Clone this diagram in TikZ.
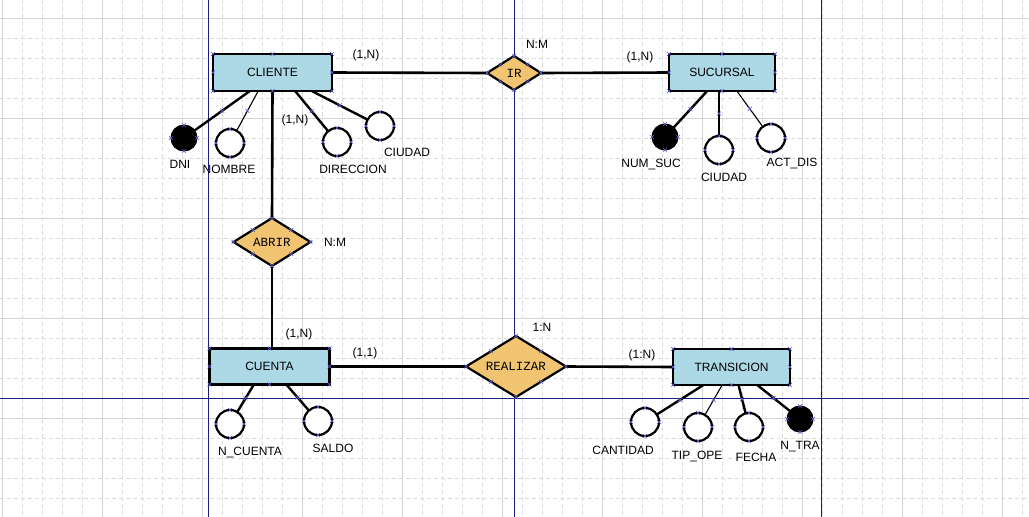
\documentclass[tikz,border=0pt]{standalone}
\usepackage{fontspec}
\setmainfont{Liberation Sans}
\newfontfamily\codefont{Liberation Mono}
\usetikzlibrary{shapes.geometric,calc,decorations.markings}

\definecolor{gridsolid}{RGB}{212,212,212}
\definecolor{griddash}{RGB}{220,220,220}
\definecolor{guide}{RGB}{28,28,128}
\definecolor{entityfill}{RGB}{173,216,230}
\definecolor{relfill}{RGB}{240,196,112}
\definecolor{handlecol}{RGB}{96,96,210}

% small selection crosses at the given anchors of a node
\newcommand\handlemark[2]{%
  \foreach \a in {#2}{\draw[handle] (#1.\a) +(-2,-2) -- +(2,2) +(-2,2) -- +(2,-2);}}

\begin{document}
\begin{tikzpicture}[x=1pt,y=-1pt,
  entity/.style={rectangle, draw=black, line width=2.8pt, fill=entityfill,
    inner sep=0pt, outer sep=0pt, font=\fontsize{12}{14}\selectfont},
  relation/.style={diamond, aspect=1.6, draw=black, line width=2.2pt, fill=relfill,
    inner sep=0pt, outer sep=0pt, font=\codefont\fontsize{12.5}{14}\selectfont},
  attr/.style={circle, draw=black, line width=2.2pt, fill=white,
    minimum size=28pt, inner sep=0pt, outer sep=0pt},
  keyattr/.style={circle, draw=black, line width=1pt, fill=black,
    minimum size=26pt, inner sep=0pt, outer sep=0pt},
  lbl/.style={inner sep=0pt, font=\fontsize{12}{14}\selectfont},
  link/.style={line width=2.6pt},
  handle/.style={draw=handlecol, line width=0.6pt},
  wire/.style={line width=2.4pt, postaction=decorate,
    decoration={markings, mark=at position 0.5 with
      {\pgftransformresetnontranslations
       \draw[handle] (-2,-2) -- (2,2) (-2,2) -- (2,-2);}}},
  thinwire/.style={wire, line width=1.1pt},
]
\useasboundingbox (0,0) rectangle (1029,517);
\fill[white] (0,0) rectangle (1029,517);

% background grid
\foreach \x in {22,42,...,1022}
  {\draw[griddash, line width=0.8pt, dash pattern=on 4pt off 3pt] (\x,0) -- (\x,517);}
\foreach \y in {38,58,...,498}
  {\draw[griddash, line width=0.8pt, dash pattern=on 4pt off 3pt] (0,\y) -- (1029,\y);}
\foreach \x in {2,102,...,1002}
  {\draw[gridsolid, line width=0.9pt] (\x,0) -- (\x,517);}
\foreach \y in {18,118,...,418}
  {\draw[gridsolid, line width=0.9pt] (0,\y) -- (1029,\y);}

% page guides
\draw[guide, line width=1pt] (208.5,0) -- (208.5,517);
\draw[guide, line width=1pt] (514.5,0) -- (514.5,517);
\draw[guide, line width=1pt] (821.5,0) -- (821.5,517);
\draw[guide, line width=1pt] (0,398.5) -- (1029,398.5);

% entities
\node[entity, minimum width=119pt, minimum height=37pt] (cliente) at (272.5,72.5) {CLIENTE};
\node[entity, minimum width=106pt, minimum height=37pt] (sucursal) at (722,72.5) {SUCURSAL};
\node[entity, minimum width=120pt, minimum height=36pt] (cuenta) at (269.5,366.5) {CUENTA};
\node[entity, minimum width=117pt, minimum height=36pt] (transicion) at (731.5,367) {TRANSICION};

% relationships
\node[relation, minimum width=54pt, minimum height=34pt] (ir) at (514,73) {IR};
\node[relation, minimum width=77pt, minimum height=48pt] (abrir) at (272,242) {ABRIR};
\node[relation, minimum width=100pt, minimum height=61pt] (realizar) at (516,366.5) {REALIZAR};

% attributes
\node[keyattr] (dni) at (184,138) {};
\node[attr] (nombre) at (230,143) {};
\node[attr] (direccion) at (337,142) {};
\node[attr] (ciudadc) at (380,126) {};
\node[keyattr] (numsuc) at (665,137) {};
\node[attr] (ciudads) at (719,150) {};
\node[attr] (actdis) at (771,138) {};
\node[attr] (ncuenta) at (230,424) {};
\node[attr] (saldo) at (318,421) {};
\node[attr] (cantidad) at (645,422) {};
\node[attr] (tipope) at (698,427) {};
\node[attr] (fecha) at (749,427) {};
\node[keyattr] (ntra) at (800,419) {};

% relationship lines
\draw[link] (cliente.east) -- (ir.west);
\draw[link] (ir.east) -- (sucursal.west);
\draw[link] (cliente.south) -- (abrir.north);
\draw[link] (abrir.south) -- (abrir.south |- cuenta.north);
\draw[link] (cuenta.east) -- (realizar.west);
\draw[link] (realizar.east) -- (transicion.west);

% attribute lines
\draw[wire] (dni) -- ($(cliente.south west)!0.31!(cliente.south east)$);
\draw[thinwire] (nombre) -- ($(cliente.south west)!0.38!(cliente.south east)$);
\draw[wire] (direccion) -- ($(cliente.south west)!0.69!(cliente.south east)$);
\draw[wire] (ciudadc) -- ($(cliente.south west)!0.83!(cliente.south east)$);
\draw[wire] (numsuc) -- ($(sucursal.south west)!0.36!(sucursal.south east)$);
\draw[wire] (ciudads.north) -- (ciudads.north |- sucursal.south);
\draw[thinwire] (actdis) -- ($(sucursal.south west)!0.64!(sucursal.south east)$);
\draw[wire] (ncuenta) -- ($(cuenta.south west)!0.37!(cuenta.south east)$);
\draw[wire] (saldo) -- ($(cuenta.south west)!0.64!(cuenta.south east)$);
\draw[wire] (cantidad) -- ($(transicion.south west)!0.26!(transicion.south east)$);
\draw[thinwire] (tipope) -- ($(transicion.south west)!0.42!(transicion.south east)$);
\draw[wire] (fecha) -- ($(transicion.south west)!0.56!(transicion.south east)$);
\draw[wire] (ntra) -- ($(transicion.south west)!0.72!(transicion.south east)$);

% attribute names
\node[lbl] (tdni) at (180,164) {DNI};
\node[lbl] (tnombre) at (229,169) {NOMBRE};
\node[lbl] (tdireccion) at (353,169) {DIRECCION};
\node[lbl] (tciudadc) at (407,152) {CIUDAD};
\node[lbl] (tnumsuc) at (651,164) {NUM\_SUC};
\node[lbl] (tciudads) at (724,177) {CIUDAD};
\node[lbl] (tactdis) at (792,163) {ACT\_DIS};
\node[lbl] (tncuenta) at (250,452) {N\_CUENTA};
\node[lbl] (tsaldo) at (333,448) {SALDO};
\node[lbl] (tcantidad) at (623,450) {CANTIDAD};
\node[lbl] (ttipope) at (697,456) {TIP\_OPE};
\node[lbl] (tfecha) at (756,457) {FECHA};
\node[lbl] (tntra) at (800,447) {N\_TRA};

% cardinalities
\node[lbl] (c1) at (366,55) {(1,N)};
\node[lbl] (c2) at (537,44) {N:M};
\node[lbl] (c3) at (640,57) {(1,N)};
\node[lbl] (c4) at (295,120) {(1,N)};
\node[lbl] (c5) at (335,242) {N:M};
\node[lbl] (c6) at (299,334) {(1,N)};
\node[lbl] (c7) at (365,353) {(1,1)};
\node[lbl] (c8) at (542,327) {1:N};
\node[lbl] (c9) at (642,355) {(1:N)};

% selection crosses
\foreach \n in {cliente,sucursal,cuenta,transicion,ir,abrir,realizar}
  {\handlemark{\n}{north west,north,north east,east,south east,south,south west,west}}
\foreach \n in {dni,nombre,direccion,ciudadc,numsuc,ciudads,actdis,ncuenta,saldo,cantidad,tipope,fecha,ntra}
  {\handlemark{\n}{north,east,south,west}}
\end{tikzpicture}
\end{document}
